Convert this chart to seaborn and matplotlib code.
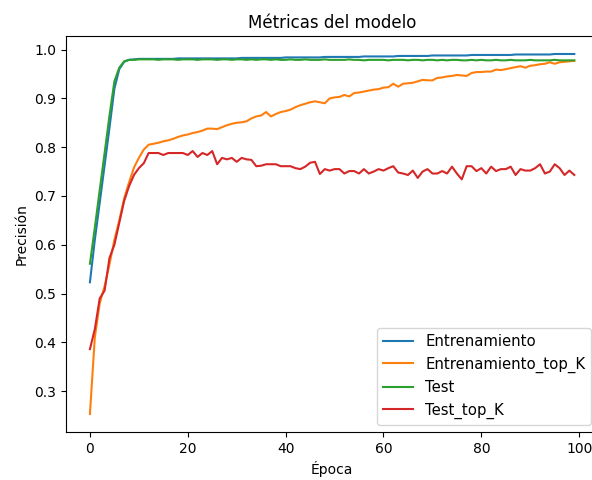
import numpy as np
import pandas as pd
import matplotlib
matplotlib.use("Agg")
import matplotlib.pyplot as plt
import seaborn as sns

# Epochs
epocas = list(range(100))

# Training accuracy
entrenamiento = [
    0.523, 0.610, 0.686, 0.763, 0.840, 0.920, 0.960, 0.975, 0.979, 0.980,
    0.981, 0.981, 0.981, 0.981, 0.981, 0.981, 0.981, 0.981, 0.982, 0.982,
    0.982, 0.982, 0.982, 0.982, 0.982, 0.982, 0.982, 0.982, 0.982, 0.982,
    0.982, 0.983, 0.983, 0.983, 0.983, 0.983, 0.983, 0.983, 0.983, 0.983,
    0.984, 0.984, 0.984, 0.984, 0.984, 0.984, 0.984, 0.984, 0.985, 0.985,
    0.985, 0.985, 0.985, 0.985, 0.985, 0.985, 0.986, 0.986, 0.986, 0.986,
    0.986, 0.986, 0.986, 0.987, 0.987, 0.987, 0.987, 0.987, 0.987, 0.987,
    0.988, 0.988, 0.988, 0.988, 0.988, 0.988, 0.988, 0.988, 0.989, 0.989,
    0.989, 0.989, 0.989, 0.989, 0.989, 0.989, 0.989, 0.990, 0.990, 0.990,
    0.990, 0.990, 0.990, 0.990, 0.990, 0.991, 0.991, 0.991, 0.991, 0.991,
]

# Training top-K accuracy
entrenamiento_top_k = [
    0.253, 0.410, 0.480, 0.515, 0.560, 0.610, 0.650, 0.695, 0.728, 0.758,
    0.778, 0.795, 0.805, 0.807, 0.809, 0.812, 0.814, 0.817, 0.821, 0.824,
    0.826, 0.829, 0.831, 0.834, 0.838, 0.838, 0.837, 0.841, 0.845, 0.848,
    0.850, 0.851, 0.853, 0.859, 0.863, 0.865, 0.872, 0.863, 0.868, 0.872,
    0.874, 0.877, 0.882, 0.886, 0.889, 0.892, 0.894, 0.892, 0.890, 0.900,
    0.902, 0.903, 0.907, 0.904, 0.911, 0.912, 0.914, 0.916, 0.918, 0.919,
    0.922, 0.923, 0.930, 0.924, 0.930, 0.931, 0.932, 0.935, 0.938, 0.937,
    0.937, 0.942, 0.943, 0.945, 0.946, 0.948, 0.947, 0.946, 0.952, 0.954,
    0.954, 0.955, 0.955, 0.959, 0.958, 0.960, 0.962, 0.964, 0.966, 0.963,
    0.967, 0.968, 0.970, 0.971, 0.974, 0.971, 0.974, 0.975, 0.976, 0.977,
]

# Test accuracy
test = [
    0.561, 0.635, 0.712, 0.788, 0.865, 0.935, 0.963, 0.976, 0.979, 0.979,
    0.980, 0.980, 0.980, 0.980, 0.979, 0.980, 0.980, 0.980, 0.979, 0.980,
    0.980, 0.980, 0.979, 0.980, 0.980, 0.980, 0.979, 0.980, 0.980, 0.979,
    0.980, 0.980, 0.979, 0.980, 0.979, 0.980, 0.980, 0.979, 0.980, 0.979,
    0.979, 0.980, 0.979, 0.979, 0.980, 0.979, 0.979, 0.979, 0.980, 0.979,
    0.979, 0.979, 0.979, 0.980, 0.979, 0.979, 0.978, 0.979, 0.979, 0.979,
    0.979, 0.978, 0.979, 0.979, 0.979, 0.978, 0.979, 0.979, 0.978, 0.979,
    0.979, 0.978, 0.979, 0.978, 0.979, 0.979, 0.978, 0.978, 0.979, 0.978,
    0.979, 0.978, 0.978, 0.979, 0.978, 0.978, 0.979, 0.978, 0.978, 0.978,
    0.979, 0.978, 0.978, 0.978, 0.978, 0.979, 0.978, 0.978, 0.978, 0.978,
]

# Test top-K accuracy
test_top_k = [
    0.386, 0.427, 0.490, 0.506, 0.573, 0.600, 0.645, 0.690, 0.720, 0.743,
    0.757, 0.767, 0.788, 0.788, 0.788, 0.784, 0.788, 0.788, 0.788, 0.788,
    0.784, 0.792, 0.780, 0.788, 0.784, 0.792, 0.765, 0.778, 0.775, 0.778,
    0.770, 0.778, 0.775, 0.774, 0.761, 0.762, 0.765, 0.765, 0.765, 0.761,
    0.761, 0.761, 0.757, 0.755, 0.760, 0.768, 0.770, 0.745, 0.755, 0.752,
    0.755, 0.755, 0.746, 0.751, 0.751, 0.746, 0.755, 0.746, 0.750, 0.755,
    0.752, 0.757, 0.761, 0.748, 0.746, 0.743, 0.752, 0.737, 0.750, 0.755,
    0.746, 0.746, 0.751, 0.746, 0.760, 0.746, 0.734, 0.761, 0.761, 0.751,
    0.757, 0.746, 0.760, 0.751, 0.755, 0.755, 0.760, 0.743, 0.755, 0.752,
    0.752, 0.757, 0.765, 0.746, 0.750, 0.765, 0.757, 0.743, 0.752, 0.743,
]

series = {
    "Entrenamiento": entrenamiento,
    "Entrenamiento_top_K": entrenamiento_top_k,
    "Test": test,
    "Test_top_K": test_top_k,
}
colores = ["#1f77b4", "#ff7f0e", "#2ca02c", "#d62728"]

fig = plt.figure(figsize=(5.92, 4.8), dpi=100)
# right edge of the axes runs slightly past the figure, as in the reference crop
ax = fig.add_axes([0.111, 0.1, 0.9, 0.825])

for (nombre, valores), color in zip(series.items(), colores):
    sns.lineplot(x=epocas, y=valores, ax=ax, color=color, label=nombre, linewidth=1.5)

ax.set_title("Métricas del modelo")
ax.set_xlabel("Época")
ax.set_ylabel("Precisión")
ax.legend(loc="lower right", fontsize=10.7)

fig.savefig("out.png", dpi=100)
